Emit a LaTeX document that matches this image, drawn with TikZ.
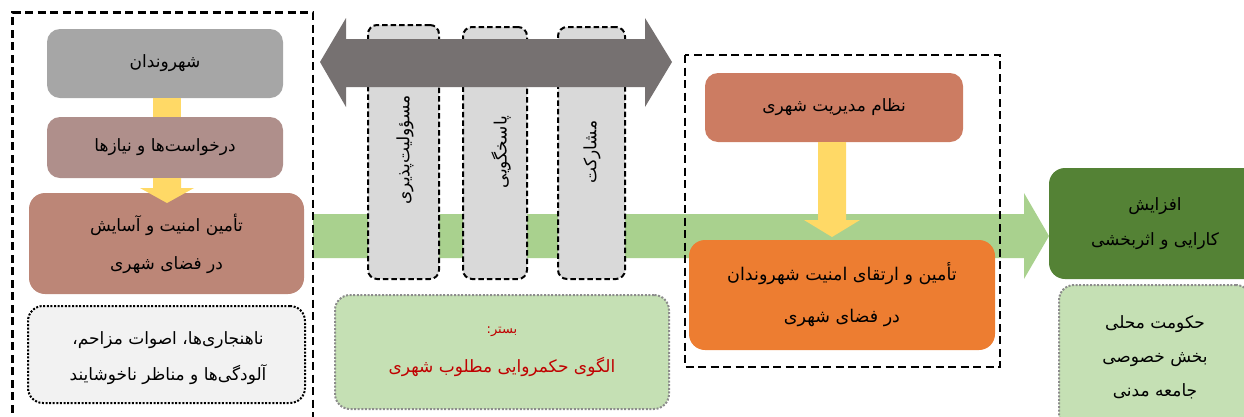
\documentclass[tikz,border=0pt]{standalone}
\usepackage{fontspec}
\newfontfamily\fafont[Script=Arabic]{DejaVu Sans}
\TeXXeTstate=1
\newcommand\fa[1]{\beginR#1\endR}
\definecolor{citgray}{HTML}{A6A6A6}
\definecolor{reqrose}{HTML}{AF8F8B}
\definecolor{secbrown}{HTML}{BC8677}
\definecolor{nuisfill}{HTML}{F2F2F2}
\definecolor{darrow}{HTML}{767171}
\definecolor{greenband}{HTML}{A9D18E}
\definecolor{yel}{HTML}{FFD966}
\definecolor{mgmtc}{HTML}{CC7C62}
\definecolor{orangec}{HTML}{ED7D31}
\definecolor{effgreen}{HTML}{548235}
\definecolor{lightgreen}{HTML}{C5E0B4}
\definecolor{dotgray}{HTML}{8C8C8C}
\definecolor{darkred}{HTML}{C00000}
\definecolor{vgray}{HTML}{D9D9D9}
\tikzset{
 txt/.style={font=\fafont\fontsize{17}{38}\selectfont, align=center, inner sep=0pt, text=black},
 rbox/.style={rounded corners=13pt, inner sep=0pt, align=center, font=\fafont\fontsize{17}{38}\selectfont, text=black},
 frame/.style={draw=black, line width=2.2pt, dash pattern=on 8pt off 4.5pt},
 vbox/.style={draw=black, fill=vgray, line width=2pt, dash pattern=on 5.5pt off 3pt, rounded corners=9pt, inner sep=0pt},
 dotbox/.style={rounded corners=15pt, line width=2pt, dash pattern=on 2pt off 1.6pt, inner sep=0pt},
}
\begin{document}
\begin{tikzpicture}[x=1pt,y=-1pt]
\useasboundingbox (0,0) rectangle (1244,416);
% green band arrow (background)
\fill[greenband] (313,214) -- (1024,214) -- (1024,193) -- (1049,236) -- (1024,279) -- (1024,258) -- (313,258) -- cycle;
% left frame
\draw[frame] (12.5,425) -- (12.5,12.5) -- (313,12.5) -- (313,425);
% left column
\node[rbox, fill=citgray, minimum width=236, minimum height=69] (cit) at (165,63.5) {\fa{شهروندان}};
\node[rbox, fill=reqrose, minimum width=236, minimum height=61] (req) at (165,147.5) {\fa{درخواست^^^^200cها و نیازها}};
\node[rbox, fill=secbrown, minimum width=275, minimum height=101, rounded corners=16pt] (sec) at (166.5,243.5) {\fa{تأمین امنیت و آسایش}\\\fa{در فضای شهری}};
\fill[yel] ([xshift=-12]cit.south) rectangle ([xshift=16]req.north);
\fill[yel] (153,178) -- (153,188) -- (140,188) -- (167,203) -- (194,188) -- (181,188) -- (181,178) -- cycle;
\node[dotbox, draw=black, fill=nuisfill, minimum width=277, minimum height=97] (nuis) at (166.5,354.5) {};
\node[txt, font=\fafont\fontsize{17}{36}\selectfont] (nuist) at (168,358) {\fa{ناهنجاری^^^^200cها، اصوات مزاحم،}\\\fa{آلودگی^^^^200cها و مناظر ناخوشایند}};
% vertical boxes
\node[vbox, minimum width=71, minimum height=254] (v1) at (403.5,152) {};
\node[vbox, minimum width=64, minimum height=252] (v2) at (495,153) {};
\node[vbox, minimum width=67, minimum height=252] (v3) at (591.5,153) {};
\node[txt, rotate=90] (v1t) at (405,150) {\fa{مسؤولیت^^^^200cپذیری}};
\node[txt, rotate=90] (v2t) at (501,152) {\fa{پاسخگویی}};
\node[txt, rotate=90] (v3t) at (592,152) {\fa{مشارکت}};
% double arrow
\fill[darrow] (320,62) -- (346,18) -- (346,39) -- (645,39) -- (645,18) -- (672,62) -- (645,107) -- (645,87) -- (346,87) -- (346,107) -- cycle;
% base box
\node[dotbox, draw=dotgray, fill=lightgreen, minimum width=334, minimum height=114] (base) at (502,352) {};
\node[txt, text=darkred, font=\fafont\fontsize{17}{39}\selectfont] (baset) at (502,352) {{\fontsize{13}{39}\selectfont\fa{بستر:}}\\\fa{الگوی حکمروایی مطلوب شهری}};
% right frame
\draw[frame] (685,55) rectangle (1000,367);
\node[rbox, fill=mgmtc, minimum width=258, minimum height=69] (mgmt) at (834,107.5) {\fa{نظام مدیریت شهری}};
\node[rbox, fill=orangec, minimum width=306, minimum height=110, rounded corners=16pt, font=\fafont\fontsize{17.5}{42}\selectfont] (urb) at (842,295) {\fa{تأمین و ارتقای امنیت شهروندان}\\\fa{در فضای شهری}};
\fill[yel] (818,142) -- (818,220) -- (804,220) -- (832,237) -- (860,220) -- (846,220) -- (846,142) -- cycle;
% right column
\node[rbox, fill=effgreen, minimum width=212, minimum height=111, rounded corners=16pt, font=\fafont\fontsize{17}{35}\selectfont] (eff) at (1155,223.5) {\fa{افزایش}\\\fa{کارایی و اثربخشی}};
\node[dotbox, draw=dotgray, fill=lightgreen, minimum width=192, minimum height=144] (act) at (1155,357) {};
\node[txt, font=\fafont\fontsize{17}{34}\selectfont] (actt) at (1155,357) {\fa{حکومت محلی}\\\fa{بخش خصوصی}\\\fa{جامعه مدنی}};
\end{tikzpicture}
\end{document}
